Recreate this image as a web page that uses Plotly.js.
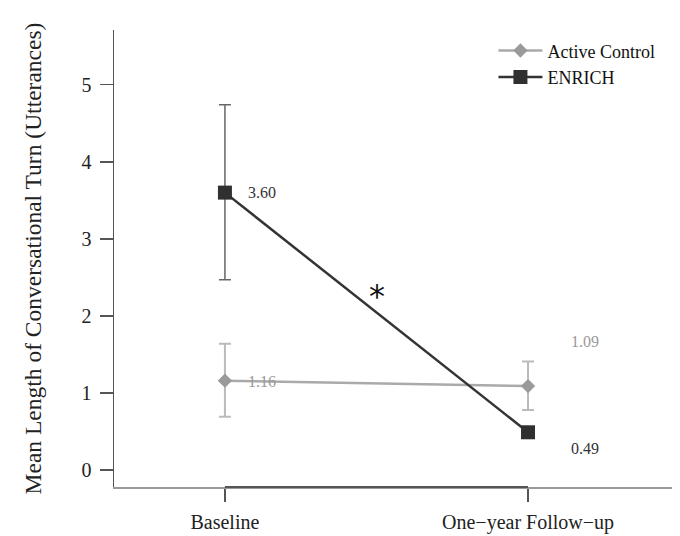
<!DOCTYPE html>
<html>
<head>
<meta charset="utf-8">
<script src="https://cdn.plot.ly/plotly-3.0.1.min.js"></script>
<style>html,body{margin:0;padding:0;background:#fff;}#chart{width:680px;height:536px;}</style>
</head>
<body>
<div id="chart"></div>
<script>
// ---- data ----
var categories = ["Baseline", "One\u2212year Follow\u2212up"];
var seriesNames = ["Active Control", "ENRICH"];
var activeMean = [1.16, 1.09];
var activeErrUp = [0.48, 0.32];
var activeErrDown = [0.47, 0.31];
var enrichMean = [3.60, 0.49];
var enrichErrUp = [1.14, 0];
var enrichErrDown = [1.13, 0];
var yTicks = [0, 1, 2, 3, 4, 5];
var sigLabel = "*";

var xIdx = categories.map(function (c, i) { return i; });
var serif = "Liberation Serif, Times New Roman, serif";

var traces = [
  {
    name: seriesNames[0], x: xIdx, y: activeMean, type: "scatter", mode: "lines+markers",
    line: { color: "#aaaaaa", width: 2.5 },
    marker: { symbol: "diamond", size: 11, color: "#9a9a9a" },
    error_y: { type: "data", symmetric: false, array: activeErrUp, arrayminus: activeErrDown,
      color: "#bbbbbb", thickness: 2, width: 6 }
  },
  {
    name: seriesNames[1], x: xIdx, y: enrichMean, type: "scatter", mode: "lines+markers",
    line: { color: "#333333", width: 2.5 },
    marker: { symbol: "square", size: 14, color: "#303030" },
    error_y: { type: "data", symmetric: false, array: enrichErrUp, arrayminus: enrichErrDown,
      color: "#666666", thickness: 1.5, width: 6 }
  }
];

function fmt(v) { return v.toFixed(2); }

var annotations = [
  { x: xIdx[0], y: enrichMean[0], text: fmt(enrichMean[0]), xshift: 37, yshift: 0, color: "#333" },
  { x: xIdx[0], y: activeMean[0], text: fmt(activeMean[0]), xshift: 37, yshift: -1, color: "#999" },
  { x: xIdx[1], y: activeMean[1], text: fmt(activeMean[1]), xshift: 57, yshift: 45, color: "#999" },
  { x: xIdx[1], y: enrichMean[1], text: fmt(enrichMean[1]), xshift: 57, yshift: -16, color: "#333" }
].map(function (a) {
  return { x: a.x, y: a.y, xref: "x", yref: "y", text: a.text, showarrow: false,
    xshift: a.xshift, yshift: a.yshift, xanchor: "center", yanchor: "middle",
    font: { family: serif, size: 16, color: a.color } };
});
annotations.push({
  x: (xIdx[0] + xIdx[1]) / 2, y: (enrichMean[0] + enrichMean[1]) / 2, xref: "x", yref: "y",
  text: sigLabel, showarrow: false, xshift: 1, yshift: 16, xanchor: "center", yanchor: "middle",
  font: { family: "DejaVu Sans, sans-serif", size: 32, color: "#111" }
});

var layout = {
  width: 680, height: 536,
  margin: { l: 114, r: 8, t: 30, b: 49 },
  paper_bgcolor: "#fff", plot_bgcolor: "#fff",
  showlegend: true,
  legend: {
    x: 0.68, y: 0.995, xanchor: "left", yanchor: "top",
    font: { family: serif, size: 18, color: "#111" },
    itemwidth: 44, bgcolor: "rgba(0,0,0,0)", tracegroupgap: 0
  },
  xaxis: {
    range: [-0.366, 1.475], tickvals: xIdx, ticktext: categories,
    showgrid: false, zeroline: false,
    showline: true, linecolor: "#9a9a9a", linewidth: 2,
    ticks: "outside", ticklen: 13, tickwidth: 1.5, tickcolor: "#555",
    ticklabelstandoff: 3,
    tickfont: { family: serif, size: 20, color: "#222" },
    fixedrange: true
  },
  yaxis: {
    range: [-0.22, 5.71], tickvals: yTicks,
    showgrid: false, zeroline: false,
    showline: true, linecolor: "#555", linewidth: 1.5,
    ticks: "outside", ticklen: 13, tickwidth: 1.5, tickcolor: "#555",
    ticklabelstandoff: 4,
    tickfont: { family: serif, size: 20, color: "#222" },
    title: { text: "Mean Length of Conversational Turn (Utterances)", standoff: 33,
      font: { family: serif, size: 23.5, color: "#222" } },
    fixedrange: true
  },
  shapes: [
    { type: "line", xref: "x", yref: "paper", x0: xIdx[0], x1: xIdx[xIdx.length - 1], y0: 0, y1: 0,
      line: { color: "#555", width: 2 } }
  ],
  annotations: annotations
};

Plotly.newPlot("chart", traces, layout, { displayModeBar: false, staticPlot: true });
</script>
</body>
</html>
